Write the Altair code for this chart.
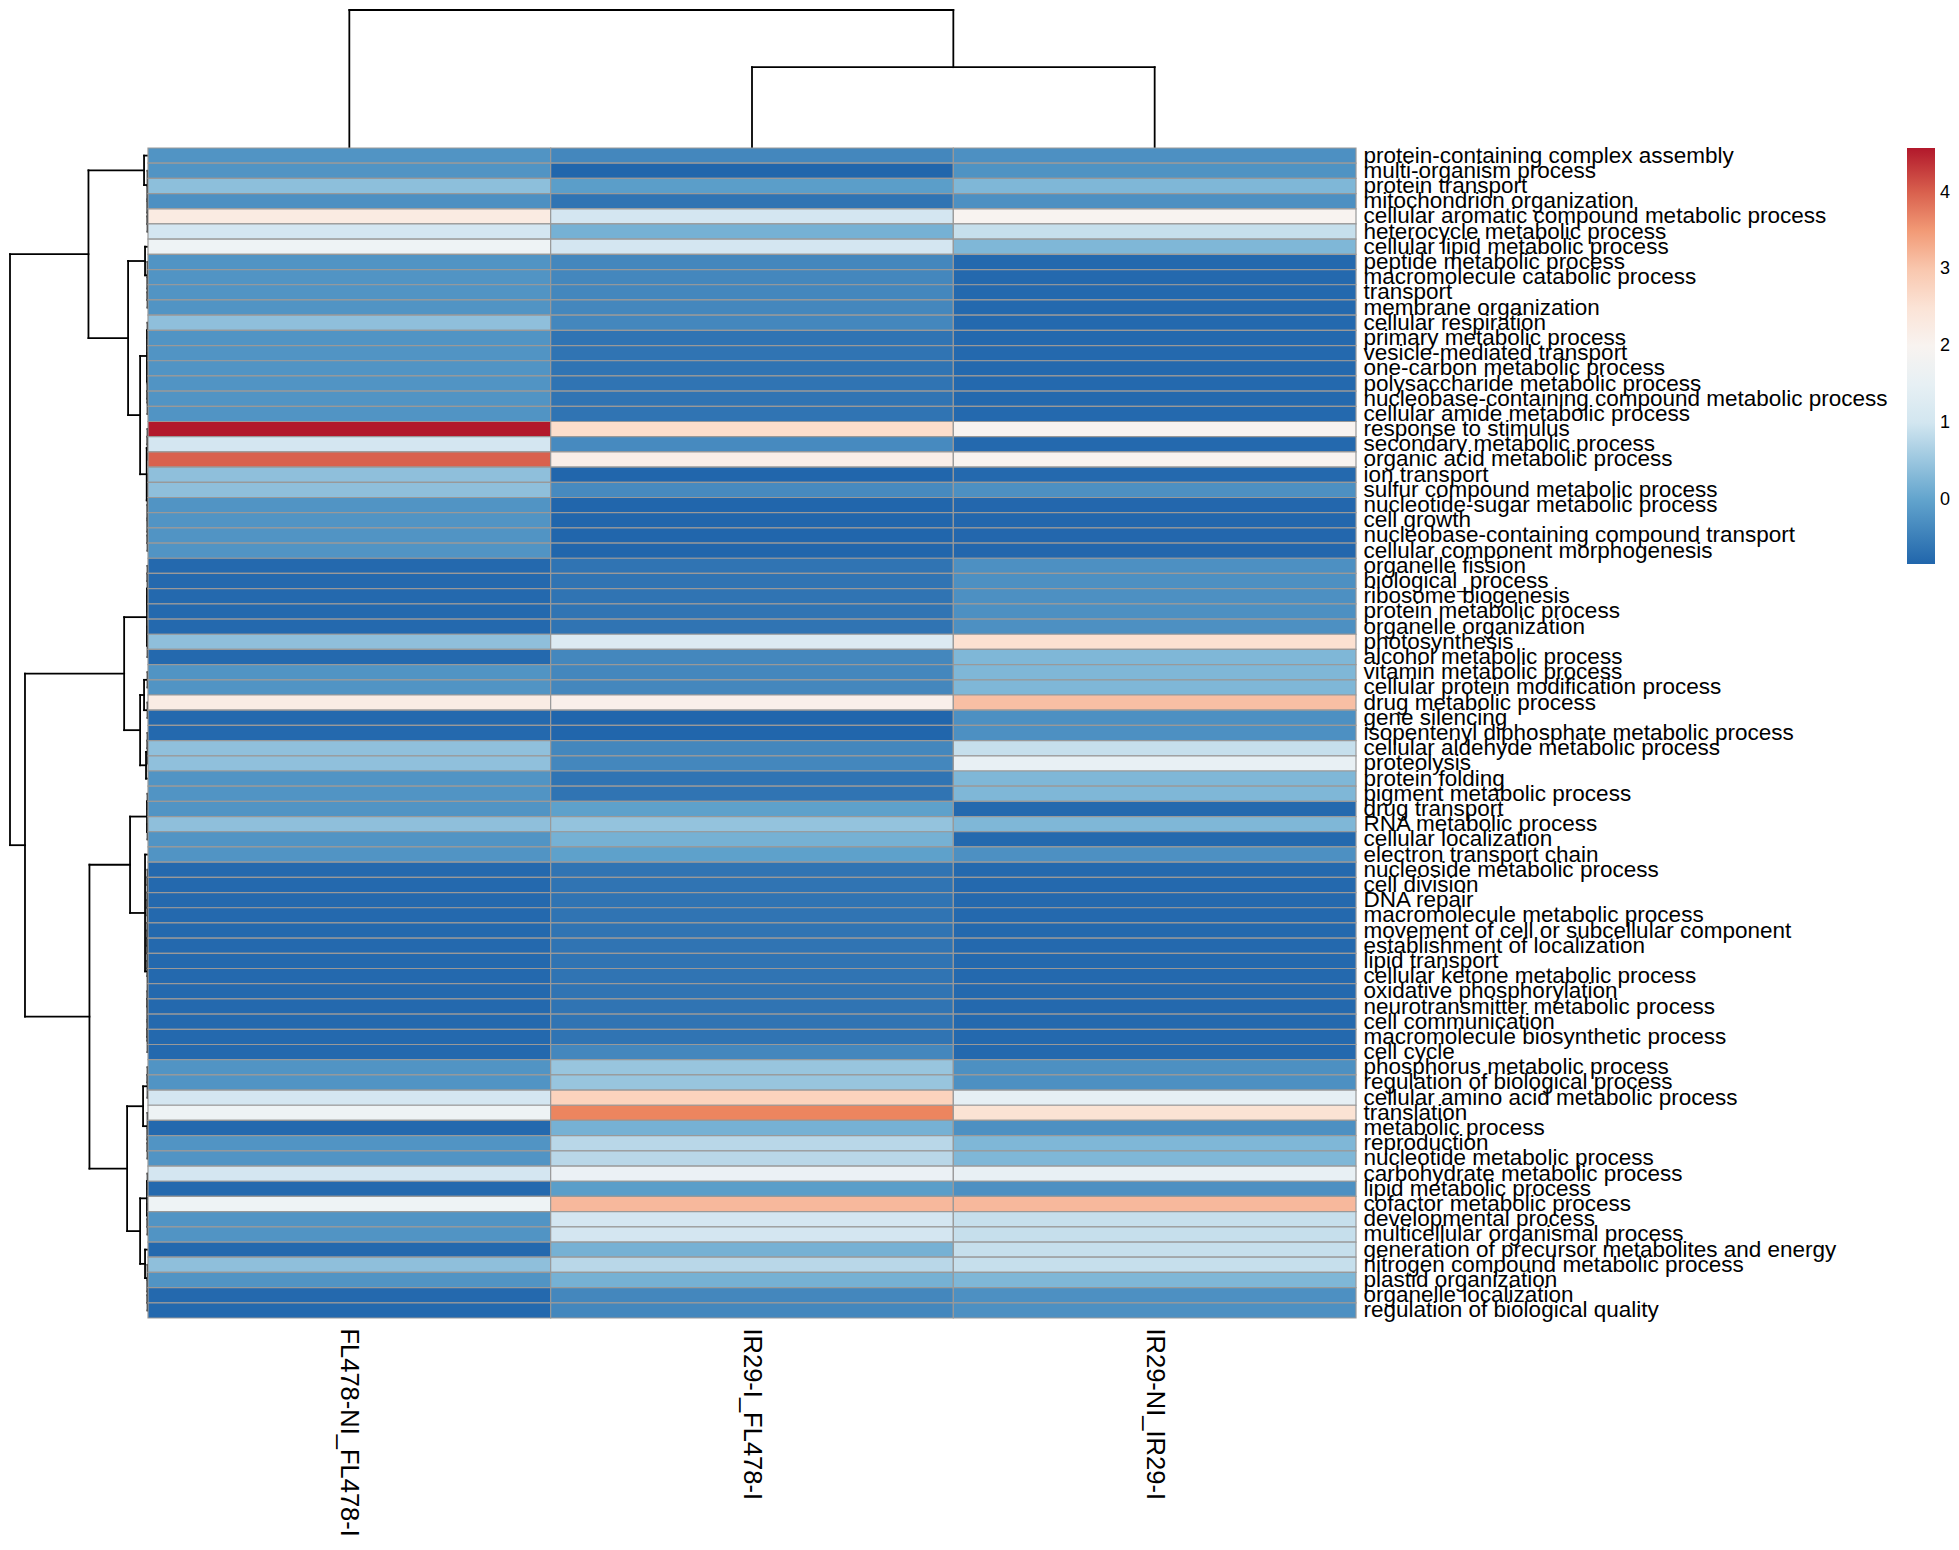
import altair as alt
import pandas as pd

FONT = "Liberation Sans"

# ---------------- data ----------------
ROWS = [
    "protein-containing complex assembly", "multi-organism process", "protein transport",
    "mitochondrion organization", "cellular aromatic compound metabolic process",
    "heterocycle metabolic process", "cellular lipid metabolic process", "peptide metabolic process",
    "macromolecule catabolic process", "transport", "membrane organization", "cellular respiration",
    "primary metabolic process", "vesicle-mediated transport", "one-carbon metabolic process",
    "polysaccharide metabolic process", "nucleobase-containing compound metabolic process",
    "cellular amide metabolic process", "response to stimulus", "secondary metabolic process",
    "organic acid metabolic process", "ion transport", "sulfur compound metabolic process",
    "nucleotide-sugar metabolic process", "cell growth", "nucleobase-containing compound transport",
    "cellular component morphogenesis", "organelle fission", "biological_process",
    "ribosome biogenesis", "protein metabolic process", "organelle organization", "photosynthesis",
    "alcohol metabolic process", "vitamin metabolic process", "cellular protein modification process",
    "drug metabolic process", "gene silencing", "isopentenyl diphosphate metabolic process",
    "cellular aldehyde metabolic process", "proteolysis", "protein folding",
    "pigment metabolic process", "drug transport", "RNA metabolic process", "cellular localization",
    "electron transport chain", "nucleoside metabolic process", "cell division", "DNA repair",
    "macromolecule metabolic process", "movement of cell or subcellular component",
    "establishment of localization", "lipid transport", "cellular ketone metabolic process",
    "oxidative phosphorylation", "neurotransmitter metabolic process", "cell communication",
    "macromolecule biosynthetic process", "cell cycle", "phosphorus metabolic process",
    "regulation of biological process", "cellular amino acid metabolic process", "translation",
    "metabolic process", "reproduction", "nucleotide metabolic process",
    "carbohydrate metabolic process", "lipid metabolic process", "cofactor metabolic process",
    "developmental process", "multicellular organismal process",
    "generation of precursor metabolites and energy", "nitrogen compound metabolic process",
    "plastid organization", "organelle localization", "regulation of biological quality",
]

COLS = ["FL478-NI_FL478-I", "IR29-I_FL478-I", "IR29-NI_IR29-I"]

FL478_NI_FL478_I = [
    -0.22, -0.22, 0.39, -0.27, 2.26, 1.04, 1.66, -0.22, -0.22, -0.22,
    -0.22, 0.40, -0.22, -0.22, -0.22, -0.22, -0.22, -0.22, 4.58, 1.04,
    4.00, 0.40, 0.40, -0.22, -0.22, -0.22, -0.22, -0.80, -0.80, -0.80,
    -0.80, -0.80, 0.40, -0.80, -0.22, -0.22, 2.22, -0.80, -0.80, 0.41,
    0.41, -0.22, -0.22, -0.22, 0.40, -0.22, -0.22, -0.80, -0.80, -0.80,
    -0.80, -0.80, -0.80, -0.80, -0.80, -0.80, -0.80, -0.80, -0.80, -0.80,
    -0.22, -0.22, 1.04, 1.66, -0.80, -0.22, -0.22, 1.04, -0.80, 1.66,
    -0.22, -0.22, -0.80, 0.40, -0.22, -0.80, -0.80,
]
IR29_I_FL478_I = [
    -0.39, -0.84, -0.09, -0.65, 1.04, 0.19, 1.04, -0.39, -0.39, -0.39,
    -0.39, -0.39, -0.65, -0.65, -0.65, -0.65, -0.65, -0.65, 2.68, -0.35,
    2.16, -0.84, -0.35, -0.84, -0.84, -0.84, -0.84, -0.65, -0.65, -0.65,
    -0.65, -0.65, 1.23, -0.39, -0.39, -0.39, 2.12, -0.84, -0.84, -0.39,
    -0.39, -0.65, -0.65, -0.05, 0.45, 0.19, -0.05, -0.65, -0.65, -0.65,
    -0.65, -0.65, -0.65, -0.65, -0.65, -0.65, -0.65, -0.65, -0.65, -0.39,
    0.48, 0.48, 2.86, 3.72, 0.19, 0.76, 0.76, 1.58, -0.09, 3.16,
    1.04, 1.04, 0.19, 0.76, 0.19, -0.39, -0.39,
]
IR29_NI_IR29_I = [
    -0.27, -0.24, 0.27, -0.27, 2.00, 0.87, 0.27, -0.80, -0.80, -0.80,
    -0.80, -0.80, -0.80, -0.80, -0.80, -0.80, -0.80, -0.80, 2.00, -0.80,
    2.00, -0.80, -0.27, -0.82, -0.82, -0.82, -0.82, -0.27, -0.27, -0.27,
    -0.27, -0.27, 2.58, 0.27, 0.27, 0.27, 3.09, -0.27, -0.27, 0.87,
    1.51, 0.27, 0.27, -0.80, 0.27, -0.80, -0.27, -0.80, -0.80, -0.80,
    -0.80, -0.80, -0.80, -0.80, -0.80, -0.80, -0.80, -0.80, -0.80, -0.80,
    -0.27, -0.27, 1.46, 2.52, -0.27, 0.27, 0.27, 1.51, -0.27, 3.16,
    0.87, 0.87, 0.87, 0.87, 0.27, -0.27, -0.27,
]

VMIN, VMAX = -0.84, 4.58
PALETTE = ["#2166AC", "#67A9CF", "#D1E5F0", "#F7F7F7", "#FDDBC7", "#EF8A62", "#B2182B"]
LEGEND_TICKS = [0, 1, 2, 3, 4]

# ---------------- dendrograms (leaf = 1-based row/column number, node = (left, right, height)) ----
T = 0.02
A1 = (1, (2, (3, (4, (5, 6, T), T), T), T), 0.20)
A2a = (7, (8, (9, (10, 11, T), T), T), 0.15)
A2b_top = ((12, 13, T), ((14, 15, T), ((16, 17, T), 18, T), T), 0.05)
A2b_bot = (((19, 20, T), 21, T), ((22, 23, T), (24, (25, (26, 27, T), T), T), T), 0.065)
B1a = (((28, 29, T), (30, 31, T), T), ((32, 33, T), 34, T), 0.05)
B1b_top = ((35, 36, T), (37, 38, T), 0.20)
B1b_bot = (((39, 40, T), 41, T), 42, 0.10)
B2a_top = ((43, 44, T), (45, 46, T), 0.05)
B2a_bot = (47, ((((48, 49, T), (50, 51, T), T), ((52, 53, T), (54, 55, T), T), T),
                ((56, 57, T), ((58, 59, T), 60, T), T), T), 0.15)
B2b_top = (((61, 62, T), 63, T), (64, (65, (66, 67, T), T), T), 0.25)
B2b_mid = ((68, 69, T), (70, (71, 72, T), T), 0.05)
B2b_bottom = (73, (74, (75, (76, 77, T), T), T), 0.15)

A2b = (A2b_top, A2b_bot, 0.40)
A2 = (A2a, A2b, 1.01)
A = (A1, A2, 3.02)
B1b = (B1b_top, B1b_bot, 0.40)
B1 = (B1a, B1b, 1.21)
B2a = (B2a_top, B2a_bot, 0.91)
B2b_low = (B2b_mid, B2b_bottom, 0.40)
B2b = (B2b_top, B2b_low, 1.06)
B2 = (B2a, B2b, 2.97)
B = (B1, B2, 6.24)
ROW_TREE = (A, B, 7.0)

COL_TREE = (1, (2, 3, 8.2), 14.0)


def dendro_segments(node, out):
    """Return (leaf-axis position, height); append U-shaped segments."""
    if isinstance(node, int):
        return node - 0.5, 0.0
    left, right, h = node
    pl, hl = dendro_segments(left, out)
    pr, hr = dendro_segments(right, out)
    out.append({"p": pl, "p2": pl, "h": hl, "h2": h})
    out.append({"p": pr, "p2": pr, "h": hr, "h2": h})
    out.append({"p": pl, "p2": pr, "h": h, "h2": h})
    return (pl + pr) / 2.0, h


row_segs = []
dendro_segments(ROW_TREE, row_segs)
col_segs = []
dendro_segments(COL_TREE, col_segs)
row_df = pd.DataFrame(row_segs)
col_df = pd.DataFrame(col_segs)

heat_df = pd.DataFrame(
    [
        {"term": t, "sample": c, "value": v}
        for c, vals in zip(COLS, [FL478_NI_FL478_I, IR29_I_FL478_I, IR29_NI_IR29_I])
        for t, v in zip(ROWS, vals)
    ]
)

n_rows = len(ROWS)
n_cols = len(COLS)
stops = [VMIN + (VMAX - VMIN) * i / (len(PALETTE) - 1) for i in range(len(PALETTE))]

# layout (pixels inside the plot area)
DENDRO = 138
HEAT_W, HEAT_H = 1208, 1170
X0, X1 = DENDRO, DENDRO + HEAT_W
Y0, Y1 = DENDRO, DENDRO + HEAT_H
LINE = dict(color="black", strokeWidth=1.8, strokeCap="square")

row_dendro = alt.Chart(row_df).mark_rule(**LINE).encode(
    x=alt.X("h:Q", scale=alt.Scale(domain=[0, ROW_TREE[2]], range=[X0, 0], nice=False, zero=False), axis=None),
    x2="h2:Q",
    y=alt.Y("p:Q", scale=alt.Scale(domain=[0, n_rows], range=[Y0, Y1], nice=False, zero=False), axis=None),
    y2="p2:Q",
)

col_dendro = alt.Chart(col_df).mark_rule(**LINE).encode(
    x=alt.X("p:Q", scale=alt.Scale(domain=[0, n_cols], range=[X0, X1], nice=False, zero=False), axis=None),
    x2="p2:Q",
    y=alt.Y("h:Q", scale=alt.Scale(domain=[0, COL_TREE[2]], range=[Y0, 0], nice=False, zero=False), axis=None),
    y2="h2:Q",
)

heat = alt.Chart(heat_df).mark_rect(stroke="#999999", strokeWidth=1.2).encode(
    x=alt.X(
        "sample:N", sort=COLS,
        scale=alt.Scale(range=[X0, X1], paddingInner=0, paddingOuter=0),
        axis=alt.Axis(orient="bottom", labelAngle=90, labelFontSize=25.5, labelFont=FONT,
                      labelColor="black", ticks=False, domain=False, title=None,
                      labelPadding=10, labelLimit=1000),
    ),
    y=alt.Y(
        "term:N", sort=ROWS,
        scale=alt.Scale(range=[Y0, Y1], paddingInner=0, paddingOuter=0),
        axis=alt.Axis(orient="right", labelFontSize=22.5, labelFont=FONT, labelColor="black",
                      ticks=False, domain=False, title=None, labelPadding=7,
                      labelLimit=1000, labelOverlap=False),
    ),
    color=alt.Color(
        "value:Q", title=None,
        scale=alt.Scale(domain=stops, range=PALETTE, interpolate="rgb"),
        legend=alt.Legend(orient="none", legendX=1897, legendY=138, direction="vertical",
                          gradientLength=416, gradientThickness=28, values=LEGEND_TICKS,
                          format="d", labelFontSize=18, labelFont=FONT, labelColor="black",
                          labelOffset=5, gradientStrokeWidth=0, labelOverlap=False),
    ),
)

chart = (
    alt.layer(row_dendro, col_dendro, heat)
    .resolve_scale(x="independent", y="independent")
    .properties(width=X1, height=Y1, padding=0, background="white")
    .configure_view(strokeWidth=0)
)

chart.save("out.html", embed_options={"renderer": "svg", "actions": False})
